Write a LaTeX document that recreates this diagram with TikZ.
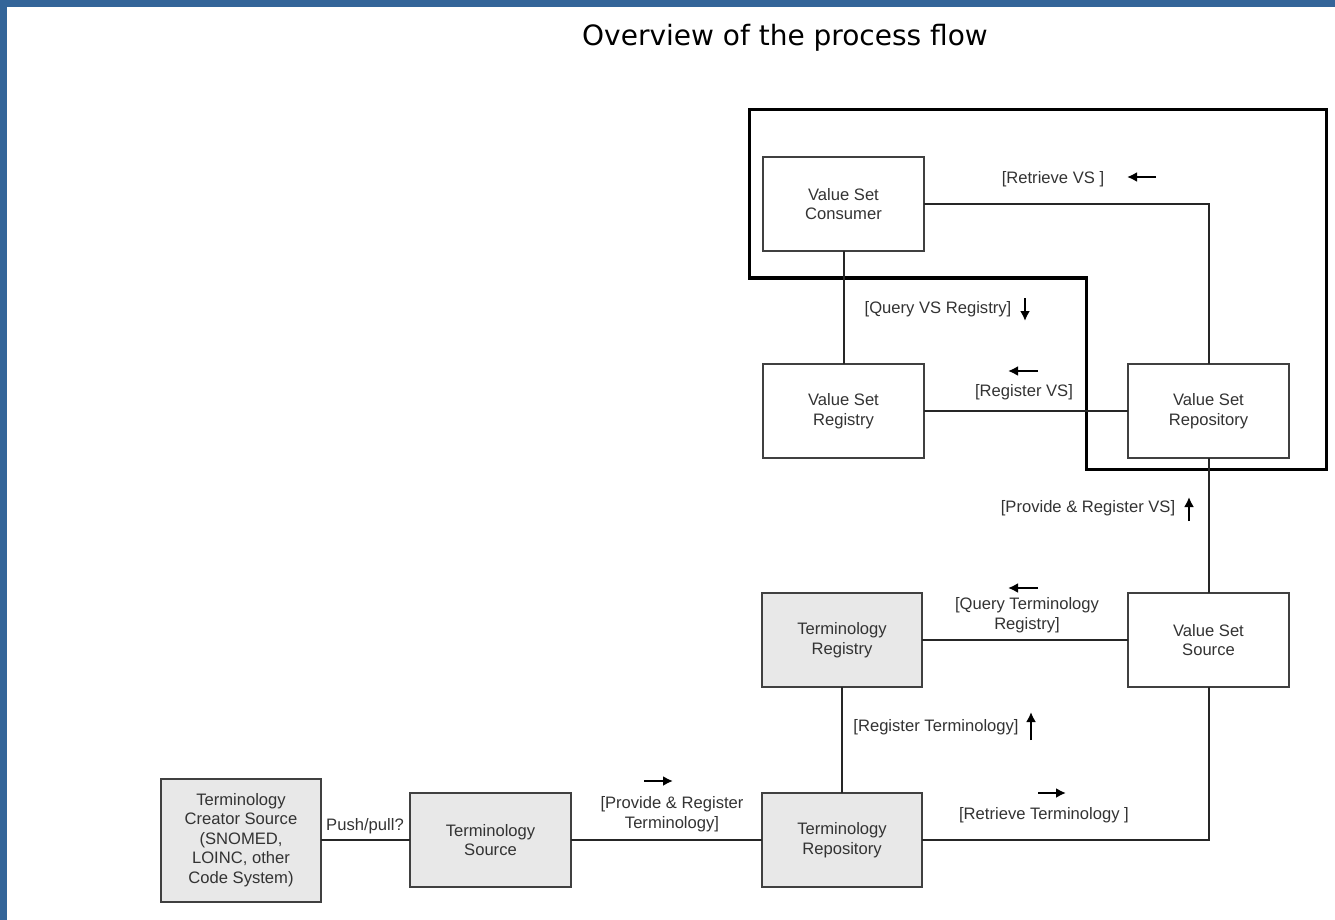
\documentclass[tikz,border=0pt]{standalone}
\usepackage{fontspec}
\setmainfont{Liberation Sans}
\newfontfamily\titlefont{DejaVu Sans}
\usetikzlibrary{arrows.meta, positioning, calc}
\definecolor{frameBlue}{RGB}{52,101,153}
\definecolor{boxBorder}{gray}{0.25}
\definecolor{boxFill}{gray}{0.91}
\definecolor{tagText}{gray}{0.2}

\begin{document}
\begin{tikzpicture}[
  x=0.5pt, y=-0.5pt,
  font=\fontsize{8.3}{9.8}\selectfont,
  box/.style={draw=boxBorder, line width=1pt, fill=white, text=tagText,
              minimum width=80.5pt, minimum height=47pt, outer sep=0pt,
              align=center, inner sep=1pt},
  greybox/.style={box, fill=boxFill},
  link/.style={draw=black!85, line width=1pt},
  tag/.style={text=tagText, align=center, inner sep=0pt},
  dir/.style={-{Latex[length=5pt,width=5pt]}, line width=1pt}
]
\useasboundingbox (0,0) rectangle (1335,920);
\fill[frameBlue] (0,0) rectangle (1335,7);
\fill[frameBlue] (0,0) rectangle (7,920);

\node[font=\titlefont\fontsize{14}{16}\selectfont] (title) at (785,38) {Overview of the process flow};

% zone of the value set side
\draw[line width=1.5pt] (749,110) -- (1326,110) -- (1326,469) -- (1086,469)
  -- (1086,278) -- (749,278) -- cycle;

\node[box] (cons) at (843.5,204) {Value Set\\Consumer};
\node[box, below=56.5pt of cons] (vsreg) {Value Set\\Registry};
\node[box, right=102pt of vsreg] (vsrep) {Value Set\\Repository};
\node[box, below=67.5pt of vsrep] (vssrc) {Value Set\\Source};
\node[greybox, minimum width=80pt, left=103pt of vssrc] (treg) {Terminology\\Registry};
\node[greybox, minimum width=80pt, below=53pt of treg] (trep) {Terminology\\Repository};
\node[greybox, left=95.5pt of trep] (tsrc) {Terminology\\Source};
\node[greybox, minimum width=80pt, minimum height=61.5pt, left=44.5pt of tsrc] (creator)
  {Terminology\\Creator Source\\(SNOMED,\\LOINC, other\\Code System)};

\draw[link] (cons.east) -| (vsrep.north);
\draw[link] (cons) -- (vsreg);
\draw[link] (vsreg) -- (vsrep);
\draw[link] (vsrep) -- (vssrc);
\draw[link] (vssrc) -- (treg);
\draw[link] (treg) -- (trep);
\draw[link] (trep.east) -| (vssrc.south);
\draw[link] (creator) -- (tsrc);
\draw[link] (tsrc) -- (trep);

% labels and their direction marks
\node[tag] (lretvs) at (1053,179) {[Retrieve VS ]};
\draw[dir] ($(lretvs)+(103,-2)$) -- ++(-29,0);
\node[tag] (lqryvs) at (938,309) {[Query VS Registry]};
\draw[dir] ($(lqryvs)+(87,-11)$) -- ++(0,23);
\node[tag] (lregvs) at (1024,392) {[Register VS]};
\draw[dir] ($(lregvs)+(14,-21)$) -- ++(-30,0);
\node[tag] (lprovvs) at (1088,508) {[Provide \& Register VS]};
\draw[dir] ($(lprovvs)+(101,13)$) -- ++(0,-24);
\node[tag] (lqryt) at (1027,615) {[Query Terminology\\Registry]};
\draw[dir] ($(lqryt)+(11,-27)$) -- ++(-30,0);
\node[tag] (lregt) at (936,727) {[Register Terminology]};
\draw[dir] ($(lregt)+(95,13)$) -- ++(0,-28);
\node[tag] (lrett) at (1044,815) {[Retrieve Terminology ]};
\draw[dir] ($(lrett)+(-6,-22)$) -- ++(28,0);
\node[tag] (lpush) at (365,826) {Push/pull?};
\node[tag] (lprovt) at (672,814) {[Provide \& Register\\Terminology]};
\draw[dir] ($(lprovt)+(-28,-33)$) -- ++(29,0);

\end{tikzpicture}
\end{document}
